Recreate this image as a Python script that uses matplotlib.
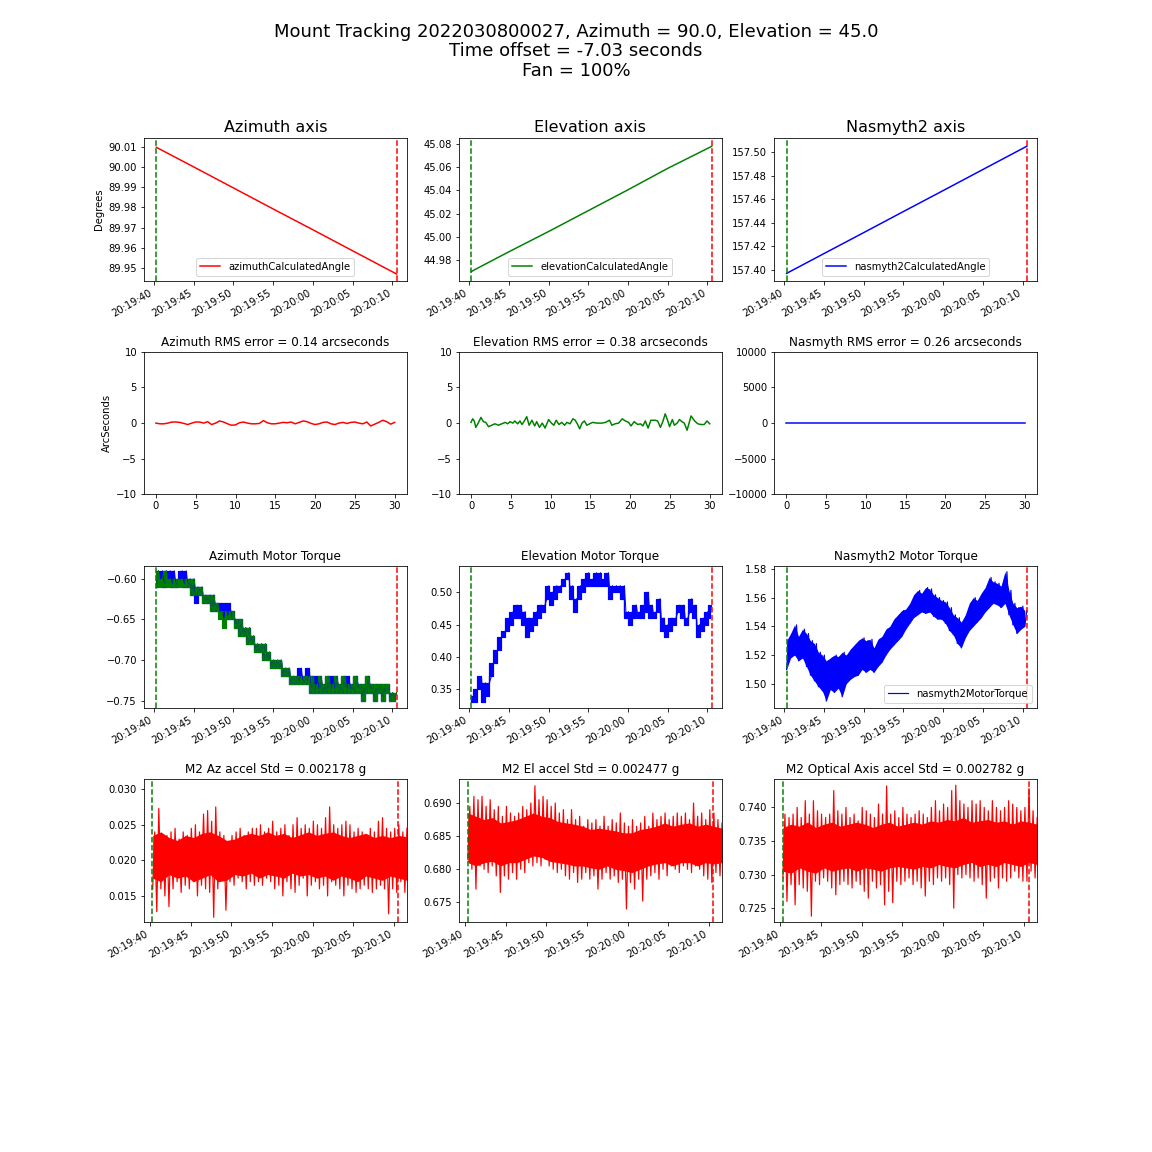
import numpy as np
import matplotlib
matplotlib.use("Agg")
import matplotlib.pyplot as plt
import matplotlib.dates as mdates
from matplotlib.ticker import MultipleLocator

# seconds after 20:19:40 on 2022-03-08
t0 = mdates.date2num(np.datetime64("2022-03-08T20:19:40"))
track_start = 0.3
track_end = 30.54

# calculated angles (read at a few times)
angle_t = [0.3, 5.0, 10.0, 15.0, 20.0, 25.0, 30.54]
az_angle = [90.0097, 90.0000, 89.9896, 89.9792, 89.9689, 89.9585, 89.9470]
el_angle_t = [0.3, 0.6, 5.0, 10.0, 15.0, 20.0, 25.0, 30.54]
el_angle = [44.9700, 44.9712, 44.9870, 45.0045, 45.0225, 45.0405, 45.0590, 45.0780]
nas_angle = [157.3970, 157.4138, 157.4316, 157.4495, 157.4673, 157.4852, 157.5050]

# tracking errors (arcsec), 0..30 s
az_err = [0.0, -0.1, -0.1, 0.0, 0.15, 0.15, 0.1, -0.05, -0.2, 0.0, 0.15, 0.15, 0.0,
          0.2, -0.2, 0.0, 0.3, 0.15, -0.1, -0.3, -0.25, 0.05, 0.15, 0.0, -0.1, -0.1,
          -0.05, 0.35, 0.05, -0.1, -0.1, 0.0, 0.1, 0.05, 0.15, -0.1, 0.1, 0.3, 0.2,
          -0.05, -0.2, -0.1, 0.1, 0.15, -0.1, -0.2, 0.0, 0.1, -0.05, 0.1, 0.15, 0.0,
          -0.1, 0.15, -0.4, -0.15, 0.1, 0.4, 0.2, -0.15, 0.1]
el_err_t = [0, 0.2, 0.4, 0.6, 0.9, 1.25, 1.55, 1.85, 2.2, 2.6, 3.0, 3.45, 3.85, 4.3,
            4.6, 4.9, 5.25, 5.5, 5.85, 6.15, 6.4, 6.7, 7.0, 7.3, 7.65, 8.0, 8.25,
            8.6, 8.95, 9.3, 9.75, 10.1, 10.4, 10.7, 11.05, 11.4, 11.75, 12.05, 12.45,
            12.8, 13.1, 13.4, 13.65, 13.95, 14.25, 14.55, 14.9, 15.3, 15.8, 16.45,
            16.9, 17.4, 17.7, 18.1, 18.55, 19.0, 19.4, 19.8, 20.1, 20.5, 20.95, 21.3,
            21.6, 21.9, 22.25, 22.6, 23.15, 23.45, 23.8, 24.1, 24.4, 24.7, 24.95,
            25.3, 25.55, 25.9, 26.2, 26.5, 26.8, 27.15, 27.65, 28.1, 28.5, 28.9,
            29.3, 29.65, 30.0]
el_err = [0.1, 0.6, 0.3, -0.6, 0.0, 0.8, 0.2, 0.1, -0.5, -0.3, -0.1, -0.3, -0.1, 0.1,
          -0.1, 0.2, 0.0, 0.3, -0.1, 0.3, -0.2, 0.3, 0.9, -0.3, 0.4, -0.4, 0.2, -0.6,
          0.0, -0.7, 0.5, 0.0, -0.3, 0.4, -0.2, 0.1, -0.3, 0.1, -0.1, 0.6, 0.4, -0.2,
          -0.8, 0.0, 0.3, -0.3, -0.1, 0.1, 0.0, 0.0, 0.1, 0.4, -0.3, -0.1, 0.0, 0.6,
          0.3, 0.1, -0.4, 0.2, -0.2, -0.1, -0.4, 0.3, -0.7, 0.4, 0.4, 0.3, -0.6, 0.2,
          1.3, 0.4, -0.5, 0.5, -0.3, 0.0, 0.5, 0.2, 0.0, -1.0, 1.0, 0.3, -0.1, -0.2,
          -0.2, 0.3, -0.1]
nas_err_t = [0, 10, 20, 30]
nas_err = [0.0, 0.0, 0.0, 0.0]

# motor torques, (low, high) pairs every ~0.5 s from track_start to track_end
az_torque1 = [-0.61, -0.59, -0.60, -0.59, -0.61, -0.59, -0.60, -0.59, -0.61, -0.59,
              -0.61, -0.60, -0.60, -0.59, -0.61, -0.59, -0.61, -0.60, -0.62, -0.60,
              -0.63, -0.61, -0.62, -0.61, -0.63, -0.62, -0.63, -0.62, -0.64, -0.62,
              -0.64, -0.63, -0.64, -0.63, -0.65, -0.63, -0.65, -0.63, -0.65, -0.64,
              -0.66, -0.65, -0.67, -0.65, -0.67, -0.66, -0.68, -0.66, -0.68, -0.67,
              -0.69, -0.68, -0.69, -0.68, -0.70, -0.68, -0.70, -0.69, -0.71, -0.70,
              -0.71, -0.70, -0.71, -0.70, -0.72, -0.71, -0.72, -0.71, -0.73, -0.72,
              -0.73, -0.72, -0.73, -0.71, -0.73, -0.72, -0.73, -0.71, -0.74, -0.72,
              -0.74, -0.72, -0.74, -0.72, -0.74, -0.73, -0.74, -0.72, -0.74, -0.72,
              -0.74, -0.72, -0.74, -0.73, -0.74, -0.72, -0.74, -0.72, -0.74, -0.73,
              -0.74, -0.72, -0.74, -0.73, -0.75, -0.73, -0.74, -0.72, -0.74, -0.73,
              -0.75, -0.73, -0.74, -0.73, -0.75, -0.73, -0.74, -0.73, -0.75, -0.74,
              -0.75, -0.74]
az_torque2 = [-0.61, -0.59, -0.61, -0.60, -0.61, -0.59, -0.61, -0.60, -0.61, -0.60,
              -0.61, -0.60, -0.61, -0.60, -0.61, -0.60, -0.61, -0.60, -0.62, -0.60,
              -0.62, -0.61, -0.62, -0.61, -0.63, -0.62, -0.63, -0.62, -0.64, -0.62,
              -0.64, -0.63, -0.65, -0.64, -0.66, -0.64, -0.65, -0.64, -0.65, -0.64,
              -0.66, -0.65, -0.67, -0.65, -0.67, -0.66, -0.68, -0.66, -0.68, -0.67,
              -0.69, -0.68, -0.69, -0.68, -0.70, -0.68, -0.70, -0.69, -0.71, -0.70,
              -0.71, -0.70, -0.71, -0.70, -0.72, -0.71, -0.72, -0.71, -0.73, -0.72,
              -0.73, -0.72, -0.73, -0.72, -0.73, -0.72, -0.73, -0.72, -0.74, -0.72,
              -0.74, -0.73, -0.74, -0.72, -0.74, -0.73, -0.74, -0.72, -0.74, -0.73,
              -0.74, -0.72, -0.74, -0.73, -0.74, -0.72, -0.74, -0.73, -0.74, -0.73,
              -0.74, -0.72, -0.74, -0.73, -0.75, -0.73, -0.74, -0.72, -0.74, -0.73,
              -0.75, -0.73, -0.74, -0.73, -0.75, -0.73, -0.74, -0.73, -0.75, -0.74,
              -0.75, -0.74]
el_torque = [0.33, 0.34, 0.33, 0.35, 0.35, 0.37, 0.33, 0.36, 0.34, 0.36, 0.37, 0.39,
             0.39, 0.41, 0.41, 0.43, 0.43, 0.44, 0.44, 0.46, 0.45, 0.47, 0.46, 0.48,
             0.46, 0.48, 0.45, 0.47, 0.43, 0.46, 0.44, 0.46, 0.45, 0.47, 0.46, 0.48,
             0.47, 0.48, 0.49, 0.51, 0.48, 0.50, 0.49, 0.51, 0.50, 0.51, 0.51, 0.52,
             0.52, 0.53, 0.49, 0.51, 0.47, 0.49, 0.49, 0.51, 0.50, 0.52, 0.51, 0.53,
             0.51, 0.52, 0.51, 0.53, 0.51, 0.53, 0.51, 0.52, 0.51, 0.53, 0.49, 0.51,
             0.50, 0.51, 0.50, 0.51, 0.49, 0.51, 0.46, 0.47, 0.45, 0.47, 0.46, 0.48,
             0.46, 0.47, 0.46, 0.48, 0.47, 0.50, 0.46, 0.48, 0.46, 0.47, 0.47, 0.49,
             0.44, 0.46, 0.43, 0.45, 0.44, 0.46, 0.45, 0.46, 0.47, 0.48, 0.46, 0.48,
             0.45, 0.46, 0.47, 0.49, 0.46, 0.48, 0.43, 0.45, 0.44, 0.46, 0.45, 0.47,
             0.46, 0.48]
nas_torque = [1.510, 1.530, 1.518, 1.535, 1.520, 1.541, 1.516, 1.533, 1.518, 1.538,
              1.512, 1.535, 1.506, 1.530, 1.502, 1.528, 1.498, 1.522, 1.495, 1.520,
              1.488, 1.516, 1.496, 1.518, 1.494, 1.520, 1.497, 1.519, 1.491, 1.522,
              1.500, 1.520, 1.503, 1.524, 1.505, 1.527, 1.506, 1.530, 1.510, 1.532,
              1.508, 1.530, 1.510, 1.531, 1.508, 1.525, 1.512, 1.531, 1.515, 1.533,
              1.520, 1.538, 1.524, 1.540, 1.527, 1.545, 1.530, 1.548, 1.533, 1.551,
              1.538, 1.552, 1.542, 1.556, 1.546, 1.562, 1.548, 1.565, 1.550, 1.563,
              1.549, 1.567, 1.550, 1.566, 1.547, 1.562, 1.545, 1.560, 1.545, 1.558,
              1.542, 1.557, 1.537, 1.553, 1.534, 1.548, 1.528, 1.546, 1.525, 1.543,
              1.532, 1.548, 1.537, 1.556, 1.540, 1.560, 1.543, 1.558, 1.546, 1.563,
              1.550, 1.567, 1.553, 1.574, 1.556, 1.571, 1.555, 1.570, 1.553, 1.568,
              1.556, 1.578, 1.548, 1.565, 1.541, 1.556, 1.535, 1.553, 1.538, 1.554,
              1.540, 1.551]

# M2 accelerometers (g), (low, high) pairs every ~0.5 s
accel_start = 0.33
accel_end = 31.6
m2_az = [0.016, 0.024, 0.0128, 0.0273, 0.016, 0.023, 0.015, 0.0235, 0.0135, 0.024,
         0.016, 0.0245, 0.017, 0.023, 0.0155, 0.024, 0.0165, 0.0235, 0.016, 0.0245,
         0.017, 0.025, 0.015, 0.024, 0.0165, 0.0265, 0.016, 0.027, 0.0155, 0.0255,
         0.012, 0.0275, 0.016, 0.024, 0.0175, 0.0235, 0.013, 0.0225, 0.017, 0.0235,
         0.0165, 0.024, 0.0175, 0.0245, 0.017, 0.0235, 0.016, 0.024, 0.017, 0.0245,
         0.0165, 0.0245, 0.017, 0.025, 0.0165, 0.024, 0.0175, 0.0245, 0.017, 0.0255,
         0.016, 0.024, 0.0165, 0.0245, 0.015, 0.025, 0.017, 0.0235, 0.016, 0.025,
         0.0155, 0.026, 0.0165, 0.0245, 0.0175, 0.025, 0.015, 0.0245, 0.0165, 0.0255,
         0.017, 0.025, 0.016, 0.0245, 0.0165, 0.026, 0.015, 0.0275, 0.017, 0.025,
         0.0165, 0.0245, 0.016, 0.025, 0.015, 0.0255, 0.0165, 0.025, 0.016, 0.024,
         0.0155, 0.0245, 0.016, 0.024, 0.0165, 0.0235, 0.016, 0.0245, 0.0155, 0.024,
         0.016, 0.0255, 0.0165, 0.026, 0.016, 0.0245, 0.0125, 0.024, 0.016, 0.0245,
         0.0155, 0.025, 0.017, 0.024, 0.0155, 0.0245]
m2_el = [0.6815, 0.6895, 0.680, 0.691, 0.677, 0.6905, 0.6805, 0.691, 0.680, 0.6895,
         0.6795, 0.6905, 0.6805, 0.689, 0.679, 0.6895, 0.6765, 0.688, 0.679, 0.6895,
         0.6785, 0.6885, 0.6795, 0.688, 0.6785, 0.6885, 0.680, 0.6895, 0.6795, 0.689,
         0.681, 0.690, 0.6805, 0.6926, 0.681, 0.6905, 0.6805, 0.691, 0.6815, 0.6905,
         0.6805, 0.6895, 0.680, 0.690, 0.6795, 0.6885, 0.680, 0.689, 0.679, 0.6875,
         0.6785, 0.689, 0.6795, 0.6875, 0.678, 0.688, 0.6785, 0.6865, 0.6795, 0.6875,
         0.6785, 0.687, 0.679, 0.6875, 0.677, 0.6865, 0.6785, 0.688, 0.6795, 0.6865,
         0.6785, 0.6875, 0.679, 0.687, 0.678, 0.6885, 0.6785, 0.687, 0.674, 0.6865,
         0.678, 0.6875, 0.677, 0.6865, 0.6785, 0.687, 0.6752, 0.688, 0.6785, 0.6865,
         0.679, 0.6885, 0.6795, 0.6875, 0.6785, 0.688, 0.680, 0.6885, 0.679, 0.6875,
         0.6805, 0.688, 0.680, 0.6885, 0.6795, 0.688, 0.6805, 0.6885, 0.680, 0.6875,
         0.6795, 0.690, 0.6805, 0.688, 0.680, 0.6885, 0.679, 0.6875, 0.6785, 0.689,
         0.678, 0.6885, 0.6795, 0.6875, 0.679, 0.687]
m2_opt = [0.7295, 0.739, 0.726, 0.7385, 0.7285, 0.739, 0.7255, 0.740, 0.7285, 0.7385,
          0.728, 0.741, 0.7275, 0.739, 0.7238, 0.741, 0.729, 0.7395, 0.7285, 0.739,
          0.7295, 0.7385, 0.729, 0.739, 0.728, 0.7425, 0.727, 0.7395, 0.7285, 0.739,
          0.729, 0.740, 0.7285, 0.7385, 0.728, 0.739, 0.729, 0.738, 0.7285, 0.740,
          0.7275, 0.7395, 0.7265, 0.739, 0.729, 0.7385, 0.728, 0.7405, 0.7285, 0.739,
          0.7255, 0.7432, 0.7275, 0.739, 0.7258, 0.7395, 0.729, 0.7385, 0.7285, 0.740,
          0.729, 0.739, 0.7295, 0.7385, 0.7285, 0.739, 0.729, 0.7395, 0.728, 0.739,
          0.7268, 0.7385, 0.729, 0.740, 0.7285, 0.741, 0.7295, 0.7395, 0.729, 0.7405,
          0.7295, 0.740, 0.7285, 0.7425, 0.725, 0.7433, 0.730, 0.741, 0.7295, 0.7405,
          0.730, 0.740, 0.7295, 0.741, 0.729, 0.7405, 0.7295, 0.741, 0.7285, 0.740,
          0.7265, 0.7395, 0.729, 0.741, 0.7295, 0.740, 0.728, 0.7395, 0.7295, 0.740,
          0.729, 0.741, 0.7295, 0.7405, 0.7305, 0.740, 0.7295, 0.7395, 0.729, 0.740,
          0.729, 0.7428, 0.7305, 0.7395, 0.7295, 0.7385]

# dense core of the accelerometer noise, about every second
m2_az_core_lo = [0.0175, 0.017, 0.018, 0.0175, 0.0178, 0.017, 0.0175, 0.018, 0.017,
                 0.0172, 0.018, 0.0178, 0.0182, 0.0175, 0.018, 0.0178, 0.0175, 0.0182,
                 0.0178, 0.018, 0.0175, 0.0178, 0.0172, 0.0178, 0.0175, 0.017, 0.0178,
                 0.0175, 0.0172, 0.0178, 0.0175, 0.0172]
m2_az_core_hi = [0.0235, 0.024, 0.0232, 0.0228, 0.0235, 0.0232, 0.0238, 0.024, 0.0235,
                 0.0228, 0.023, 0.0235, 0.0238, 0.0235, 0.024, 0.0235, 0.0238, 0.0232,
                 0.0236, 0.024, 0.0235, 0.0238, 0.024, 0.0235, 0.0232, 0.0235, 0.0238,
                 0.0232, 0.0235, 0.0232, 0.0235, 0.0233]
m2_el_core_lo = [0.681, 0.6805, 0.681, 0.6812, 0.6805, 0.681, 0.681, 0.6815, 0.682,
                 0.6818, 0.6812, 0.681, 0.6808, 0.6805, 0.6805, 0.6802, 0.680, 0.6805,
                 0.680, 0.6798, 0.6795, 0.680, 0.6805, 0.6808, 0.681, 0.6805, 0.681,
                 0.681, 0.6805, 0.681, 0.6808, 0.681]
m2_el_core_hi = [0.6885, 0.688, 0.6875, 0.6878, 0.687, 0.6872, 0.6875, 0.688, 0.6885,
                 0.688, 0.6878, 0.6872, 0.687, 0.6868, 0.6865, 0.686, 0.6862, 0.686,
                 0.6858, 0.6855, 0.6855, 0.686, 0.6862, 0.6865, 0.687, 0.6865, 0.6868,
                 0.687, 0.6865, 0.6868, 0.6865, 0.6862]
m2_opt_core_lo = [0.7305, 0.7302, 0.731, 0.7305, 0.7302, 0.731, 0.7305, 0.7308, 0.731,
                  0.7305, 0.731, 0.7308, 0.7305, 0.731, 0.7312, 0.731, 0.7308, 0.7312,
                  0.731, 0.7315, 0.7312, 0.731, 0.7315, 0.7318, 0.7312, 0.7315, 0.7312,
                  0.7318, 0.7315, 0.7312, 0.7318, 0.7315]
m2_opt_core_hi = [0.737, 0.7375, 0.7372, 0.7378, 0.737, 0.7375, 0.7378, 0.7372, 0.7375,
                  0.7378, 0.7375, 0.737, 0.7375, 0.7378, 0.7372, 0.7375, 0.7378, 0.7375,
                  0.738, 0.7378, 0.7382, 0.738, 0.7385, 0.7378, 0.738, 0.7382, 0.7378,
                  0.738, 0.7375, 0.738, 0.7378, 0.7375]


def tnum(sec):
    return t0 + np.asarray(sec, dtype=float) / 86400.0


def span(start, end, values):
    return tnum(np.linspace(start, end, len(values)))


def date_axis(ax, xlim):
    ax.set_xlim(tnum(xlim[0]), tnum(xlim[1]))
    ax.xaxis.set_major_locator(mdates.SecondLocator(bysecond=range(0, 60, 5)))
    ax.xaxis.set_major_formatter(mdates.DateFormatter("%H:%M:%S"))
    plt.setp(ax.get_xticklabels(), rotation=30, ha="right")


def marks(ax):
    ax.axvline(tnum(track_start), color="green", ls="--")
    ax.axvline(tnum(track_end), color="red", ls="--")


def torque_band(ax, vals, color, label=None):
    x = span(track_start, track_end, vals)
    lo = np.asarray(vals[0::2])
    hi = np.asarray(vals[1::2])
    ax.fill_between(x[0::2], lo, hi, step="mid", color=color, lw=1.2, edgecolor=color)
    ax.plot(x, vals, color=color, lw=1.0, label=label)


fig, axs = plt.subplots(4, 3, figsize=(16, 16))
plt.subplots_adjust(hspace=0.5, bottom=0.2)
fig.suptitle("Mount Tracking 2022030800027, Azimuth = 90.0, Elevation = 45.0\n"
             "Time offset = -7.03 seconds\nFan = 100%", fontsize=18, linespacing=1.1)

main_xlim = (-1.26, 31.8)
accel_xlim = (-0.74, 31.56)

# row 1: calculated angles
ax = axs[0, 0]
ax.set_title("Azimuth axis", fontsize=16)
ax.plot(tnum(angle_t), az_angle, color="red", label="azimuthCalculatedAngle")
marks(ax)
ax.set_ylim(89.9437, 90.0142)
ax.yaxis.set_major_locator(MultipleLocator(0.01))
ax.set_ylabel("Degrees")
ax.legend(loc="lower center")
date_axis(ax, main_xlim)

ax = axs[0, 1]
ax.set_title("Elevation axis", fontsize=16)
ax.plot(tnum(el_angle_t), el_angle, color="green", label="elevationCalculatedAngle")
marks(ax)
ax.set_ylim(44.9621, 45.085)
ax.legend(loc="lower center")
date_axis(ax, main_xlim)

ax = axs[0, 2]
ax.set_title("Nasmyth2 axis", fontsize=16)
ax.plot(tnum(angle_t), nas_angle, color="blue", label="nasmyth2CalculatedAngle")
marks(ax)
ax.set_ylim(157.3908, 157.5118)
ax.legend(loc="lower center")
date_axis(ax, main_xlim)

# row 2: tracking errors
ax = axs[1, 0]
ax.set_title("Azimuth RMS error = 0.14 arcseconds")
ax.plot(np.linspace(0, 30, len(az_err)), az_err, color="red")
ax.set_ylim(-10, 10)
ax.set_ylabel("ArcSeconds")

ax = axs[1, 1]
ax.set_title("Elevation RMS error = 0.38 arcseconds")
ax.plot(el_err_t, el_err, color="green")
ax.set_ylim(-10, 10)

ax = axs[1, 2]
ax.set_title("Nasmyth RMS error = 0.26 arcseconds")
ax.plot(nas_err_t, nas_err, color="blue")
ax.set_ylim(-10000, 10000)

# row 3: motor torques
ax = axs[2, 0]
ax.set_title("Azimuth Motor Torque")
torque_band(ax, az_torque1, "blue")
torque_band(ax, az_torque2, "green")
marks(ax)
ax.set_ylim(-0.759, -0.5835)
date_axis(ax, main_xlim)

ax = axs[2, 1]
ax.set_title("Elevation Motor Torque")
torque_band(ax, el_torque, "blue")
marks(ax)
ax.set_ylim(0.3212, 0.5411)
date_axis(ax, main_xlim)

ax = axs[2, 2]
ax.set_title("Nasmyth2 Motor Torque")
x = span(track_start, track_end, nas_torque)
ax.fill_between(x[0::2], nas_torque[0::2], nas_torque[1::2], color="blue", lw=0)
ax.plot(x, nas_torque, color="blue", lw=1.2, label="nasmyth2MotorTorque")
marks(ax)
ax.set_ylim(1.4832, 1.5823)
ax.legend(loc="lower right")
date_axis(ax, main_xlim)

# row 4: M2 accelerations
accel = [("M2 Az accel Std = 0.002178 g", m2_az, m2_az_core_lo, m2_az_core_hi,
          (0.0114, 0.0314)),
         ("M2 El accel Std = 0.002477 g", m2_el, m2_el_core_lo, m2_el_core_hi,
          (0.6721, 0.6936)),
         ("M2 Optical Axis accel Std = 0.002782 g", m2_opt, m2_opt_core_lo,
          m2_opt_core_hi, (0.7230, 0.7442))]
for ax, (title, vals, core_lo, core_hi, ylim) in zip(axs[3], accel):
    ax.set_title(title)
    ax.fill_between(span(accel_start, accel_end, core_lo), core_lo, core_hi,
                    color="red", lw=0)
    ax.plot(span(accel_start, accel_end, vals), vals, color="red", lw=1.2)
    marks(ax)
    ax.set_ylim(*ylim)
    date_axis(ax, accel_xlim)

fig.savefig("out.png", dpi=72)
